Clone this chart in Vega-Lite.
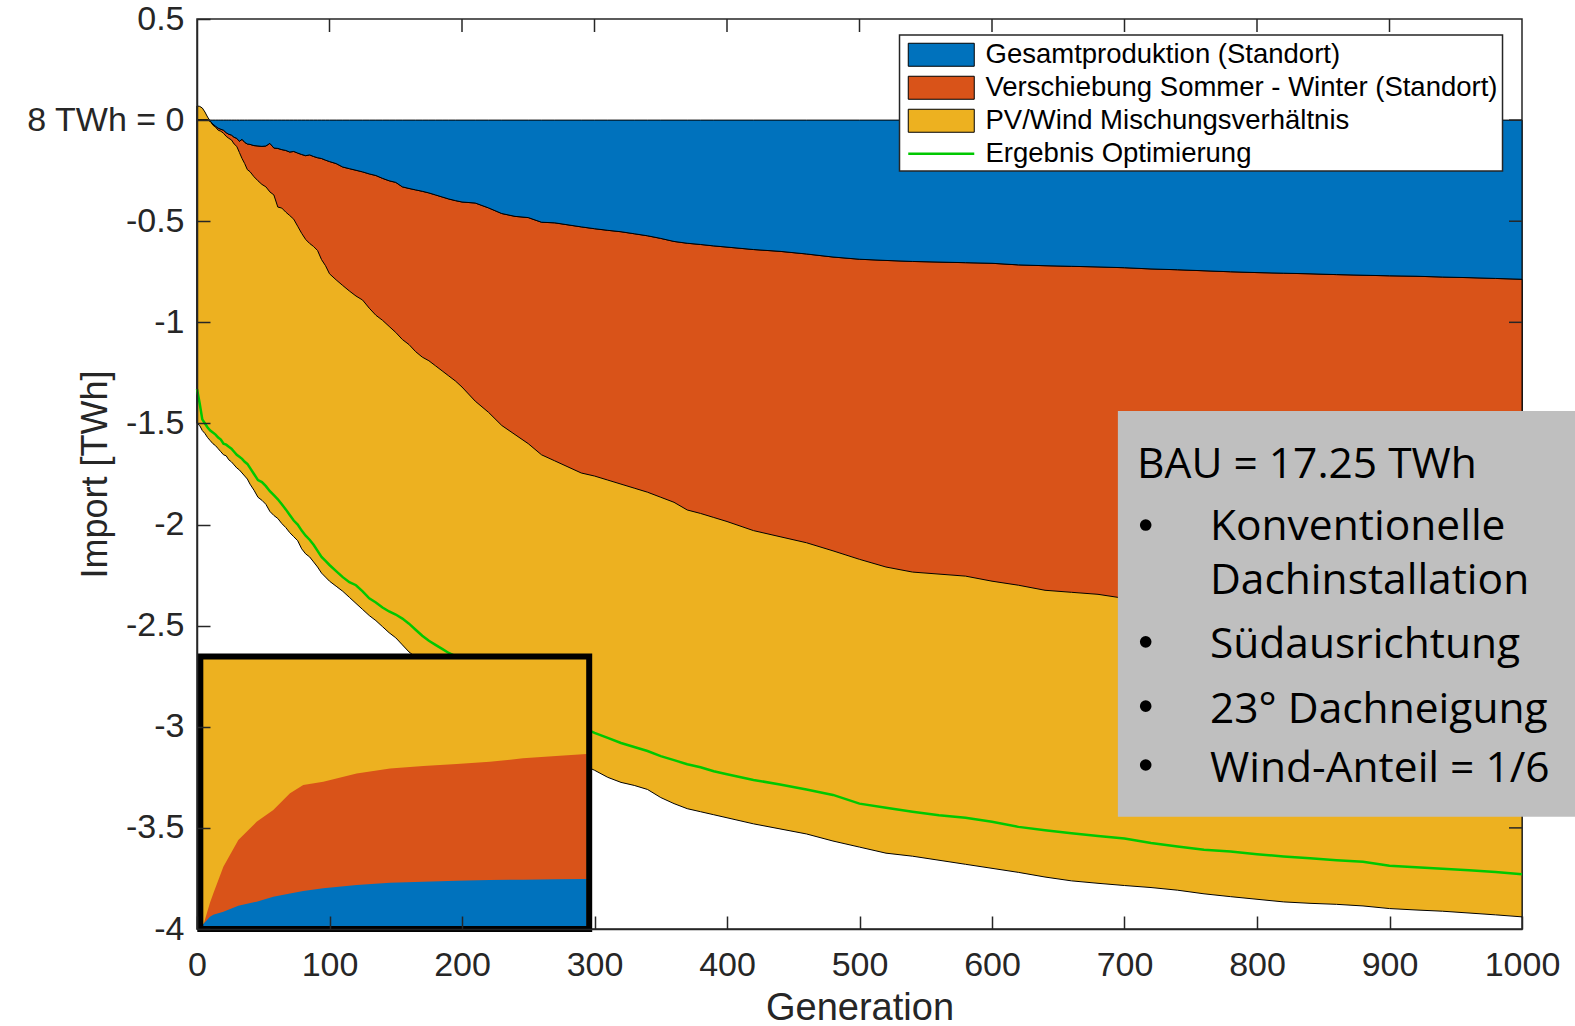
{
  "$schema": "https://vega.github.io/schema/vega-lite/v6.json",
  "width": 1325,
  "height": 910,
  "autosize": {"type": "none"},
  "padding": {"left": 197, "top": 19, "right": 53, "bottom": 97},
  "background": "white",
  "config": {
    "view": {"stroke": "#262626", "strokeWidth": 1.5},
    "axis": {"grid": false, "labelFont": "Liberation Sans", "titleFont": "Liberation Sans", "titleFontWeight": "normal"}
  },
  "datasets": {
    "main": [
      {"g":0,"top":0.07,"blue":0,"orange":0,"yellow":-1.5,"opt":-1.33},
      {"g":2,"top":0.068,"blue":0,"orange":0,"yellow":-1.51,"opt":-1.40},
      {"g":4,"top":0.06,"blue":0,"orange":0,"yellow":-1.535,"opt":-1.48},
      {"g":6,"top":0.04,"blue":0,"orange":0,"yellow":-1.55,"opt":-1.50},
      {"g":8,"top":0.015,"blue":0,"orange":0,"yellow":-1.57,"opt":-1.52},
      {"g":10,"top":-0.005,"blue":-0.005,"orange":-0.005,"yellow":-1.585,"opt":-1.535},
      {"g":12,"top":-0.02,"blue":-0.02,"orange":-0.025,"yellow":-1.6,"opt":-1.545},
      {"g":14,"top":-0.03,"blue":-0.03,"orange":-0.035,"yellow":-1.61,"opt":-1.555},
      {"g":16,"top":-0.04,"blue":-0.04,"orange":-0.05,"yellow":-1.625,"opt":-1.57},
      {"g":18,"top":-0.045,"blue":-0.045,"orange":-0.055,"yellow":-1.64,"opt":-1.58},
      {"g":20,"top":-0.05,"blue":-0.05,"orange":-0.065,"yellow":-1.655,"opt":-1.6},
      {"g":22,"top":-0.062,"blue":-0.062,"orange":-0.08,"yellow":-1.66,"opt":-1.605},
      {"g":24,"top":-0.07,"blue":-0.07,"orange":-0.09,"yellow":-1.68,"opt":-1.615},
      {"g":26,"top":-0.074,"blue":-0.074,"orange":-0.098,"yellow":-1.69,"opt":-1.625},
      {"g":28,"top":-0.085,"blue":-0.085,"orange":-0.118,"yellow":-1.705,"opt":-1.64},
      {"g":30,"top":-0.09,"blue":-0.09,"orange":-0.13,"yellow":-1.72,"opt":-1.655},
      {"g":32,"top":-0.105,"blue":-0.105,"orange":-0.16,"yellow":-1.73,"opt":-1.665},
      {"g":34,"top":-0.095,"blue":-0.095,"orange":-0.19,"yellow":-1.745,"opt":-1.675},
      {"g":36,"top":-0.11,"blue":-0.11,"orange":-0.215,"yellow":-1.76,"opt":-1.69},
      {"g":38,"top":-0.118,"blue":-0.118,"orange":-0.245,"yellow":-1.775,"opt":-1.7},
      {"g":40,"top":-0.12,"blue":-0.12,"orange":-0.255,"yellow":-1.8,"opt":-1.72},
      {"g":43,"top":-0.126,"blue":-0.126,"orange":-0.28,"yellow":-1.83,"opt":-1.75},
      {"g":46,"top":-0.128,"blue":-0.128,"orange":-0.3,"yellow":-1.865,"opt":-1.78},
      {"g":49,"top":-0.13,"blue":-0.13,"orange":-0.318,"yellow":-1.88,"opt":-1.79},
      {"g":52,"top":-0.128,"blue":-0.128,"orange":-0.33,"yellow":-1.9,"opt":-1.81},
      {"g":55,"top":-0.115,"blue":-0.115,"orange":-0.355,"yellow":-1.935,"opt":-1.835},
      {"g":58,"top":-0.138,"blue":-0.138,"orange":-0.37,"yellow":-1.955,"opt":-1.855},
      {"g":61,"top":-0.14,"blue":-0.14,"orange":-0.43,"yellow":-1.97,"opt":-1.875},
      {"g":64,"top":-0.146,"blue":-0.146,"orange":-0.435,"yellow":-1.995,"opt":-1.9},
      {"g":67,"top":-0.15,"blue":-0.15,"orange":-0.455,"yellow":-2.015,"opt":-1.925},
      {"g":70,"top":-0.158,"blue":-0.158,"orange":-0.472,"yellow":-2.04,"opt":-1.953},
      {"g":73,"top":-0.155,"blue":-0.155,"orange":-0.49,"yellow":-2.06,"opt":-1.98},
      {"g":76,"top":-0.163,"blue":-0.163,"orange":-0.525,"yellow":-2.08,"opt":-2.0},
      {"g":79,"top":-0.17,"blue":-0.17,"orange":-0.56,"yellow":-2.12,"opt":-2.03},
      {"g":82,"top":-0.176,"blue":-0.176,"orange":-0.59,"yellow":-2.145,"opt":-2.055},
      {"g":85,"top":-0.172,"blue":-0.172,"orange":-0.61,"yellow":-2.16,"opt":-2.075},
      {"g":88,"top":-0.18,"blue":-0.18,"orange":-0.625,"yellow":-2.185,"opt":-2.1},
      {"g":91,"top":-0.186,"blue":-0.186,"orange":-0.645,"yellow":-2.21,"opt":-2.13},
      {"g":94,"top":-0.19,"blue":-0.19,"orange":-0.69,"yellow":-2.24,"opt":-2.16},
      {"g":97,"top":-0.198,"blue":-0.198,"orange":-0.72,"yellow":-2.26,"opt":-2.18},
      {"g":100,"top":-0.205,"blue":-0.205,"orange":-0.76,"yellow":-2.28,"opt":-2.2},
      {"g":105,"top":-0.215,"blue":-0.215,"orange":-0.79,"yellow":-2.305,"opt":-2.23},
      {"g":110,"top":-0.232,"blue":-0.232,"orange":-0.818,"yellow":-2.33,"opt":-2.26},
      {"g":115,"top":-0.24,"blue":-0.24,"orange":-0.845,"yellow":-2.36,"opt":-2.285},
      {"g":120,"top":-0.248,"blue":-0.248,"orange":-0.87,"yellow":-2.39,"opt":-2.3},
      {"g":125,"top":-0.256,"blue":-0.256,"orange":-0.89,"yellow":-2.42,"opt":-2.33},
      {"g":130,"top":-0.266,"blue":-0.266,"orange":-0.93,"yellow":-2.45,"opt":-2.365},
      {"g":135,"top":-0.274,"blue":-0.274,"orange":-0.965,"yellow":-2.475,"opt":-2.385},
      {"g":140,"top":-0.288,"blue":-0.288,"orange":-0.99,"yellow":-2.505,"opt":-2.41},
      {"g":145,"top":-0.3,"blue":-0.3,"orange":-1.02,"yellow":-2.535,"opt":-2.43},
      {"g":150,"top":-0.308,"blue":-0.308,"orange":-1.05,"yellow":-2.56,"opt":-2.445},
      {"g":155,"top":-0.33,"blue":-0.33,"orange":-1.085,"yellow":-2.595,"opt":-2.465},
      {"g":160,"top":-0.338,"blue":-0.338,"orange":-1.11,"yellow":-2.63,"opt":-2.49},
      {"g":165,"top":-0.345,"blue":-0.345,"orange":-1.145,"yellow":-2.655,"opt":-2.52},
      {"g":170,"top":-0.352,"blue":-0.352,"orange":-1.172,"yellow":-2.68,"opt":-2.55},
      {"g":175,"top":-0.36,"blue":-0.36,"orange":-1.19,"yellow":-2.705,"opt":-2.575},
      {"g":180,"top":-0.37,"blue":-0.37,"orange":-1.215,"yellow":-2.73,"opt":-2.595},
      {"g":185,"top":-0.38,"blue":-0.38,"orange":-1.24,"yellow":-2.755,"opt":-2.615},
      {"g":190,"top":-0.39,"blue":-0.39,"orange":-1.265,"yellow":-2.78,"opt":-2.635},
      {"g":195,"top":-0.398,"blue":-0.398,"orange":-1.29,"yellow":-2.805,"opt":-2.65},
      {"g":200,"top":-0.405,"blue":-0.405,"orange":-1.32,"yellow":-2.83,"opt":-2.67},
      {"g":210,"top":-0.41,"blue":-0.41,"orange":-1.39,"yellow":-2.87,"opt":-2.71},
      {"g":220,"top":-0.434,"blue":-0.434,"orange":-1.445,"yellow":-2.92,"opt":-2.75},
      {"g":230,"top":-0.462,"blue":-0.462,"orange":-1.51,"yellow":-2.96,"opt":-2.79},
      {"g":240,"top":-0.476,"blue":-0.476,"orange":-1.555,"yellow":-3.0,"opt":-2.83},
      {"g":250,"top":-0.482,"blue":-0.482,"orange":-1.6,"yellow":-3.04,"opt":-2.87},
      {"g":260,"top":-0.505,"blue":-0.505,"orange":-1.655,"yellow":-3.08,"opt":-2.9},
      {"g":270,"top":-0.508,"blue":-0.508,"orange":-1.685,"yellow":-3.11,"opt":-2.94},
      {"g":280,"top":-0.518,"blue":-0.518,"orange":-1.715,"yellow":-3.15,"opt":-2.97},
      {"g":290,"top":-0.528,"blue":-0.528,"orange":-1.745,"yellow":-3.185,"opt":-3.0},
      {"g":300,"top":-0.537,"blue":-0.537,"orange":-1.76,"yellow":-3.215,"opt":-3.03},
      {"g":310,"top":-0.545,"blue":-0.545,"orange":-1.78,"yellow":-3.25,"opt":-3.055},
      {"g":320,"top":-0.552,"blue":-0.552,"orange":-1.8,"yellow":-3.275,"opt":-3.08},
      {"g":330,"top":-0.562,"blue":-0.562,"orange":-1.82,"yellow":-3.29,"opt":-3.1},
      {"g":340,"top":-0.572,"blue":-0.572,"orange":-1.84,"yellow":-3.31,"opt":-3.12},
      {"g":350,"top":-0.585,"blue":-0.585,"orange":-1.865,"yellow":-3.35,"opt":-3.145},
      {"g":360,"top":-0.6,"blue":-0.6,"orange":-1.89,"yellow":-3.38,"opt":-3.165},
      {"g":370,"top":-0.609,"blue":-0.609,"orange":-1.928,"yellow":-3.405,"opt":-3.185},
      {"g":380,"top":-0.615,"blue":-0.615,"orange":-1.945,"yellow":-3.42,"opt":-3.2},
      {"g":390,"top":-0.622,"blue":-0.622,"orange":-1.965,"yellow":-3.435,"opt":-3.22},
      {"g":400,"top":-0.628,"blue":-0.628,"orange":-1.985,"yellow":-3.45,"opt":-3.235},
      {"g":420,"top":-0.64,"blue":-0.64,"orange":-2.03,"yellow":-3.48,"opt":-3.263},
      {"g":440,"top":-0.649,"blue":-0.649,"orange":-2.06,"yellow":-3.505,"opt":-3.285},
      {"g":460,"top":-0.662,"blue":-0.662,"orange":-2.09,"yellow":-3.53,"opt":-3.31},
      {"g":480,"top":-0.677,"blue":-0.677,"orange":-2.13,"yellow":-3.565,"opt":-3.337},
      {"g":500,"top":-0.688,"blue":-0.688,"orange":-2.172,"yellow":-3.595,"opt":-3.38},
      {"g":520,"top":-0.694,"blue":-0.694,"orange":-2.21,"yellow":-3.625,"opt":-3.4},
      {"g":540,"top":-0.699,"blue":-0.699,"orange":-2.235,"yellow":-3.64,"opt":-3.42},
      {"g":560,"top":-0.702,"blue":-0.702,"orange":-2.245,"yellow":-3.66,"opt":-3.438},
      {"g":580,"top":-0.705,"blue":-0.705,"orange":-2.255,"yellow":-3.68,"opt":-3.45},
      {"g":600,"top":-0.708,"blue":-0.708,"orange":-2.28,"yellow":-3.7,"opt":-3.47},
      {"g":620,"top":-0.716,"blue":-0.716,"orange":-2.3,"yellow":-3.72,"opt":-3.495},
      {"g":640,"top":-0.72,"blue":-0.72,"orange":-2.325,"yellow":-3.743,"opt":-3.512},
      {"g":660,"top":-0.723,"blue":-0.723,"orange":-2.335,"yellow":-3.762,"opt":-3.527},
      {"g":680,"top":-0.726,"blue":-0.726,"orange":-2.345,"yellow":-3.774,"opt":-3.54},
      {"g":700,"top":-0.73,"blue":-0.73,"orange":-2.365,"yellow":-3.785,"opt":-3.552},
      {"g":720,"top":-0.736,"blue":-0.736,"orange":-2.38,"yellow":-3.795,"opt":-3.575},
      {"g":740,"top":-0.74,"blue":-0.74,"orange":-2.4,"yellow":-3.808,"opt":-3.592},
      {"g":760,"top":-0.745,"blue":-0.745,"orange":-2.42,"yellow":-3.826,"opt":-3.608},
      {"g":780,"top":-0.75,"blue":-0.75,"orange":-2.44,"yellow":-3.84,"opt":-3.617},
      {"g":800,"top":-0.754,"blue":-0.754,"orange":-2.46,"yellow":-3.853,"opt":-3.63},
      {"g":820,"top":-0.757,"blue":-0.757,"orange":-2.475,"yellow":-3.866,"opt":-3.641},
      {"g":840,"top":-0.76,"blue":-0.76,"orange":-2.49,"yellow":-3.873,"opt":-3.65},
      {"g":860,"top":-0.764,"blue":-0.764,"orange":-2.505,"yellow":-3.878,"opt":-3.66},
      {"g":880,"top":-0.767,"blue":-0.767,"orange":-2.52,"yellow":-3.886,"opt":-3.668},
      {"g":900,"top":-0.77,"blue":-0.77,"orange":-2.535,"yellow":-3.899,"opt":-3.687},
      {"g":920,"top":-0.772,"blue":-0.772,"orange":-2.55,"yellow":-3.906,"opt":-3.695},
      {"g":940,"top":-0.776,"blue":-0.776,"orange":-2.56,"yellow":-3.912,"opt":-3.702},
      {"g":960,"top":-0.779,"blue":-0.779,"orange":-2.57,"yellow":-3.921,"opt":-3.71},
      {"g":980,"top":-0.783,"blue":-0.783,"orange":-2.58,"yellow":-3.93,"opt":-3.718},
      {"g":1000,"top":-0.787,"blue":-0.787,"orange":-2.59,"yellow":-3.94,"opt":-3.729}
    ],
    "inset": [
      {"g":3.5,"orange":-3.985,"blue":-3.985,"base":-3.985},
      {"g":4.8,"orange":-3.98,"blue":-3.975,"base":-3.985},
      {"g":9.8,"orange":-3.87,"blue":-3.94,"base":-3.985},
      {"g":12.3,"orange":-3.824,"blue":-3.93,"base":-3.985},
      {"g":19.9,"orange":-3.692,"blue":-3.915,"base":-3.985},
      {"g":31.2,"orange":-3.56,"blue":-3.885,"base":-3.985},
      {"g":45,"orange":-3.47,"blue":-3.865,"base":-3.985},
      {"g":57.6,"orange":-3.412,"blue":-3.841,"base":-3.985},
      {"g":70.2,"orange":-3.329,"blue":-3.824,"base":-3.985},
      {"g":80.2,"orange":-3.288,"blue":-3.812,"base":-3.985},
      {"g":95.3,"orange":-3.272,"blue":-3.799,"base":-3.985},
      {"g":120.5,"orange":-3.231,"blue":-3.783,"base":-3.985},
      {"g":145.7,"orange":-3.206,"blue":-3.771,"base":-3.985},
      {"g":170.8,"orange":-3.194,"blue":-3.766,"base":-3.985},
      {"g":196,"orange":-3.184,"blue":-3.761,"base":-3.985},
      {"g":221,"orange":-3.173,"blue":-3.758,"base":-3.985},
      {"g":246,"orange":-3.156,"blue":-3.756,"base":-3.985},
      {"g":271,"orange":-3.145,"blue":-3.754,"base":-3.985},
      {"g":294,"orange":-3.135,"blue":-3.753,"base":-3.985}
    ],
    "insetbox": [
      {"g0":2.5,"g1":296,"v0":-2.653,"v1":-4.0}
    ],
    "notebox": [
      {"g0":695,"g1":1045,"v0":-1.4387,"v1":-3.445}
    ],
    "legendbox": [
      {"g0":530.2,"g1":985.3,"v0":0.4209,"v1":-0.2517}
    ],
    "topticks": [
      {"g":100,"v0":0.5,"v1":0.4357},{"g":200,"v0":0.5,"v1":0.4357},{"g":300,"v0":0.5,"v1":0.4357},
      {"g":400,"v0":0.5,"v1":0.4357},{"g":500,"v0":0.5,"v1":0.4357},{"g":600,"v0":0.5,"v1":0.4357},
      {"g":700,"v0":0.5,"v1":0.4357},{"g":800,"v0":0.5,"v1":0.4357},{"g":900,"v0":0.5,"v1":0.4357}
    ],
    "rightticks": [
      {"v":0,"g0":1000,"g1":990.2},{"v":-0.5,"g0":1000,"g1":990.2},{"v":-1,"g0":1000,"g1":990.2},
      {"v":-1.5,"g0":1000,"g1":990.2},{"v":-2,"g0":1000,"g1":990.2},{"v":-2.5,"g0":1000,"g1":990.2},
      {"v":-3,"g0":1000,"g1":990.2},{"v":-3.5,"g0":1000,"g1":990.2}
    ],
    "notes": [
      {"g":709.5,"v":-1.77,"t":"BAU = 17.25 TWh"},
      {"g":764.5,"v":-2.077,"t":"Konventionelle"},
      {"g":764.5,"v":-2.344,"t":"Dachinstallation"},
      {"g":764.5,"v":-2.66,"t":"Südausrichtung"},
      {"g":764.5,"v":-2.982,"t":"23° Dachneigung"},
      {"g":764.5,"v":-3.274,"t":"Wind-Anteil = 1/6"}
    ],
    "bullets": [
      {"g":716,"v":-2.0025},
      {"g":716,"v":-2.58},
      {"g":716,"v":-2.898},
      {"g":716,"v":-3.189}
    ]
  },
  "layer": [
    {
      "data": {"name": "main"},
      "mark": {"type": "area", "stroke": "black", "strokeWidth": 1, "opacity": 1},
      "encoding": {
        "x": {"field": "g", "type": "quantitative", "scale": {"domain": [0, 1000], "nice": false, "zero": false},
              "axis": {"orient": "bottom", "values": [0,100,200,300,400,500,600,700,800,900,1000], "format": "d",
                       "tickSize": -13, "tickColor": "#262626", "tickWidth": 1.5, "domainColor": "#262626", "domainWidth": 1.5,
                       "labelFontSize": 34, "labelColor": "#262626", "labelFlush": false, "labelOverlap": false,
                       "labelBaseline": "alphabetic", "labelPadding": 59,
                       "title": "Generation", "titleFontSize": 38, "titleColor": "#262626",
                       "titleX": 662.5, "titleY": 90, "titleAlign": "center", "titleBaseline": "alphabetic", "zindex": 1}},
        "y": {"field": "top", "type": "quantitative", "scale": {"domain": [-4, 0.5], "nice": false, "zero": false},
              "axis": {"orient": "left", "values": [0.5,0,-0.5,-1,-1.5,-2,-2.5,-3,-3.5,-4],
                       "tickSize": -13, "tickColor": "#262626", "tickWidth": 1.5, "domainColor": "#262626", "domainWidth": 1.5,
                       "labelExpr": "datum.value == 0 ? '8 TWh = 0' : (datum.value < 0 ? '-' : '') + format(abs(datum.value), '')",
                       "labelFontSize": 34, "labelColor": "#262626",
                       "labelOverlap": false, "labelFlush": false, "labelBaseline": "middle", "labelPadding": 26,
                       "title": "Import [TWh]", "titleFontSize": 36, "titleColor": "#262626",
                       "titleX": -91, "titleY": 455, "titleAngle": -90, "titleAlign": "center", "titleBaseline": "alphabetic", "zindex": 1}},
        "y2": {"field": "yellow"},
        "fill": {"datum": "PV/Wind Mischungsverhältnis",
                  "scale": {"domain": ["Gesamtproduktion (Standort)", "Verschiebung Sommer - Winter (Standort)", "PV/Wind Mischungsverhältnis"],
                            "range": ["#0072BD", "#D95319", "#EDB120"]},
                  "legend": {"orient": "none", "legendX": 703, "legendY": 16, "title": null, "direction": "vertical",
                             "padding": 6,
                             "labelFont": "Liberation Sans", "labelFontSize": 27.5, "labelColor": "black", "labelLimit": 900,
                             "labelOffset": 52, "rowPadding": 4, "symbolSize": 529, "symbolType": "M-1,-1H4.74V1H-1Z",
                             "symbolOpacity": 1, "symbolStrokeWidth": 1, "symbolStrokeColor": "#333333"}}
      }
    },
    {
      "data": {"name": "main"},
      "mark": {"type": "area", "stroke": "black", "strokeWidth": 1, "opacity": 1},
      "encoding": {
        "x": {"field": "g", "type": "quantitative"},
        "y": {"field": "blue", "type": "quantitative"},
        "y2": {"field": "orange"},
        "fill": {"datum": "Verschiebung Sommer - Winter (Standort)"}
      }
    },
    {
      "data": {"name": "main"},
      "mark": {"type": "area", "stroke": "black", "strokeWidth": 1, "opacity": 1},
      "encoding": {
        "x": {"field": "g", "type": "quantitative"},
        "y": {"field": "blue", "type": "quantitative"},
        "fill": {"datum": "Gesamtproduktion (Standort)"}
      }
    },
    {
      "data": {"name": "main"},
      "mark": {"type": "line", "strokeWidth": 2.5},
      "encoding": {
        "x": {"field": "g", "type": "quantitative"},
        "y": {"field": "opt", "type": "quantitative"},
        "stroke": {"datum": "Ergebnis Optimierung",
                   "scale": {"domain": ["Ergebnis Optimierung"], "range": ["#00C800"]},
                   "legend": {"orient": "none", "legendX": 703, "legendY": 115, "title": null, "direction": "vertical",
                              "padding": 6,
                              "labelFont": "Liberation Sans", "labelFontSize": 27.5, "labelColor": "black", "labelLimit": 900,
                              "labelOffset": 52, "symbolSize": 529, "symbolType": "M-1,0H4.74",
                              "symbolOpacity": 1, "symbolStrokeWidth": 2.5}}
      }
    },
    {
      "data": {"name": "legendbox"},
      "mark": {"type": "rect", "fill": "white", "stroke": "#262626", "strokeWidth": 1.5},
      "encoding": {
        "x": {"field": "g0", "type": "quantitative"},
        "x2": {"field": "g1"},
        "y": {"field": "v0", "type": "quantitative"},
        "y2": {"field": "v1"}
      }
    },
    {
      "data": {"name": "topticks"},
      "mark": {"type": "rule", "stroke": "#262626", "strokeWidth": 1.5},
      "encoding": {
        "x": {"field": "g", "type": "quantitative"},
        "y": {"field": "v0", "type": "quantitative"},
        "y2": {"field": "v1"}
      }
    },
    {
      "data": {"name": "rightticks"},
      "mark": {"type": "rule", "stroke": "#262626", "strokeWidth": 1.5},
      "encoding": {
        "x": {"field": "g0", "type": "quantitative"},
        "x2": {"field": "g1"},
        "y": {"field": "v", "type": "quantitative"}
      }
    },
    {
      "data": {"name": "insetbox"},
      "mark": {"type": "rect", "fill": "#EDB120"},
      "encoding": {
        "x": {"field": "g0", "type": "quantitative"},
        "x2": {"field": "g1"},
        "y": {"field": "v0", "type": "quantitative"},
        "y2": {"field": "v1"}
      }
    },
    {
      "data": {"name": "inset"},
      "mark": {"type": "area", "fill": "#D95319"},
      "encoding": {
        "x": {"field": "g", "type": "quantitative"},
        "y": {"field": "orange", "type": "quantitative"},
        "y2": {"field": "base"}
      }
    },
    {
      "data": {"name": "inset"},
      "mark": {"type": "area", "fill": "#0072BD"},
      "encoding": {
        "x": {"field": "g", "type": "quantitative"},
        "y": {"field": "blue", "type": "quantitative"},
        "y2": {"field": "base"}
      }
    },
    {
      "data": {"name": "insetbox"},
      "mark": {"type": "rect", "filled": false, "stroke": "black", "strokeWidth": 6},
      "encoding": {
        "x": {"field": "g0", "type": "quantitative"},
        "x2": {"field": "g1"},
        "y": {"field": "v0", "type": "quantitative"},
        "y2": {"field": "v1"}
      }
    },
    {
      "data": {"name": "notebox"},
      "mark": {"type": "rect", "fill": "#BFBFBF"},
      "encoding": {
        "x": {"field": "g0", "type": "quantitative"},
        "x2": {"field": "g1"},
        "y": {"field": "v0", "type": "quantitative"},
        "y2": {"field": "v1"}
      }
    },
    {
      "data": {"name": "notes"},
      "mark": {"type": "text", "align": "left", "baseline": "alphabetic", "font": "Open Sans", "fontSize": 42.5, "color": "black"},
      "encoding": {
        "x": {"field": "g", "type": "quantitative"},
        "y": {"field": "v", "type": "quantitative"},
        "text": {"field": "t"}
      }
    },
    {
      "data": {"name": "bullets"},
      "mark": {"type": "point", "shape": "circle", "filled": true, "color": "black", "size": 135, "opacity": 1},
      "encoding": {
        "x": {"field": "g", "type": "quantitative"},
        "y": {"field": "v", "type": "quantitative"}
      }
    }
  ]
}
